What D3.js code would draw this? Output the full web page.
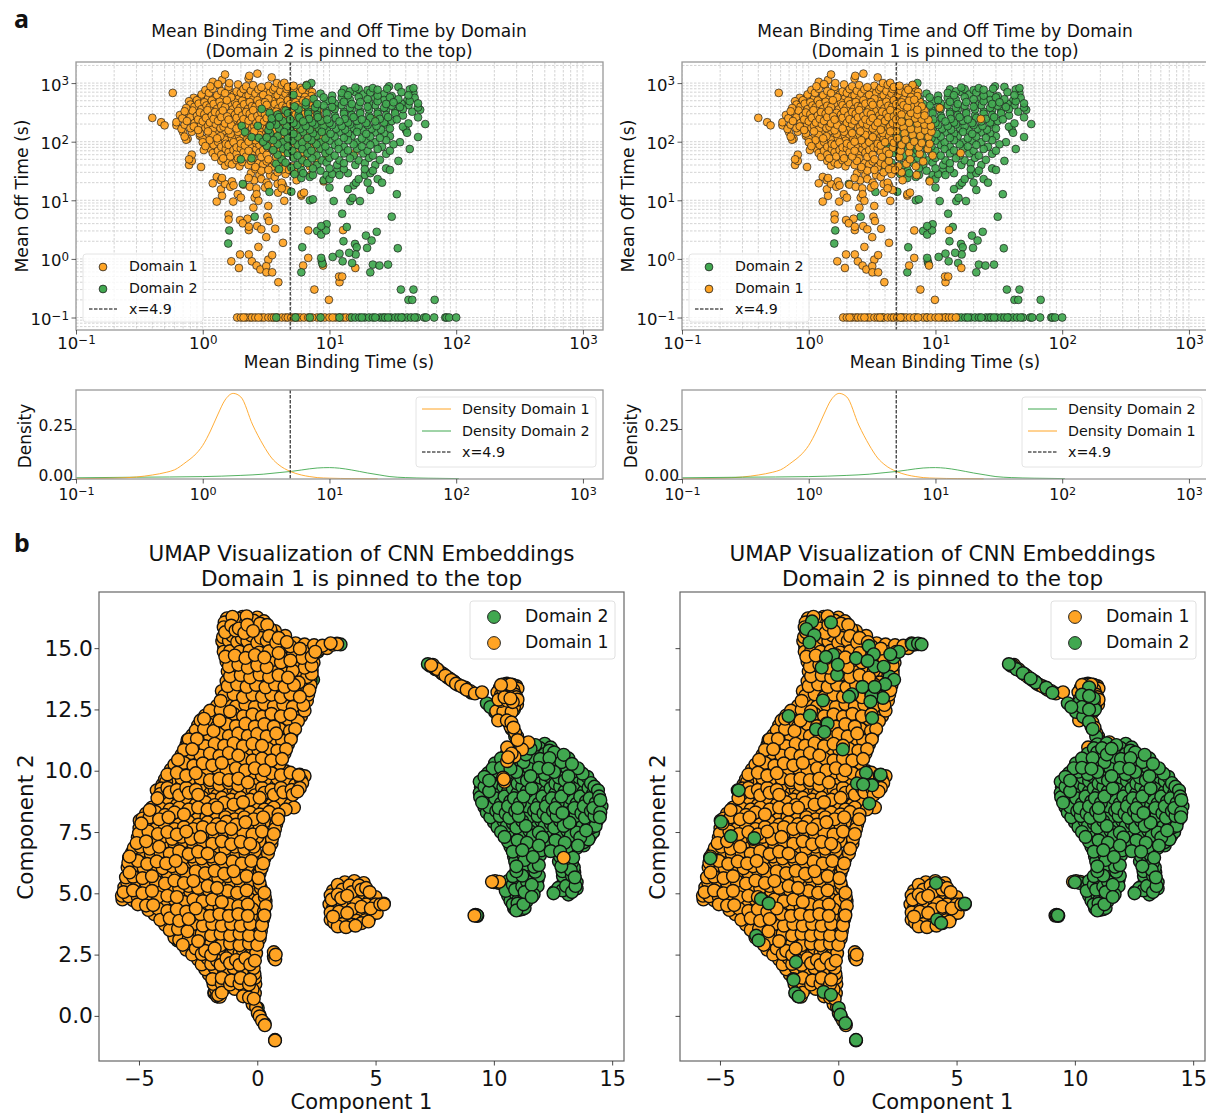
<!DOCTYPE html>
<html>
<head>
<meta charset="utf-8">
<script src="https://d3js.org/d3.v7.min.js"></script>
<style>
html,body{margin:0;padding:0;background:#fff;overflow:hidden;}
text{font-family:"DejaVu Sans",sans-serif;fill:#111;}
</style>
</head>
<body>
<svg id="fig" width="1206" height="1115"></svg>
<script>
// mean binding time (s), mean off time (s)
var scatterDomain1 = [
[0.4,255],[0.47,215],[0.5,190],[0.58,680],[1.2,1050],[1.32,960],[1.42,1130],[1.5,1400],[1.62,1000],[2.3,1200],[2.33,1330],[2.7,1450],[3.5,1250],[3.85,1000],[4.4,1010],
[1.15,880],[1.35,930],[1.6,860],[1.9,950],[2.2,880],[2.5,920],[2.9,850],[3.3,900],[3.7,840],[4.2,930],[4.7,860],[5.2,900],[5.9,830],[6.6,930],
[1.05,760],[1.2,800],[1.4,730],[1.6,780],[1.85,720],[2.1,790],[2.4,740],[2.75,780],[3.15,720],[3.6,770],[4.1,730],[4.6,790],[5.3,740],[6.1,770],[7,720],
[0.98,640],[1.12,680],[1.3,620],[1.5,670],[1.75,630],[2,680],[2.3,620],[2.6,660],[3,630],[3.4,680],[3.9,620],[4.5,660],[5.1,640],[5.8,680],
[0.85,560],[0.97,590],[1.1,540],[1.27,580],[1.45,530],[1.68,570],[1.92,540],[2.2,590],[2.5,530],[2.85,570],[3.3,540],[3.75,590],[4.3,550],[4.9,570],[5.6,530],[6.4,580],
[0.78,490],[0.9,510],[1.03,470],[1.18,505],[1.36,480],[1.55,510],[1.8,465],[2.05,500],[2.35,475],[2.7,510],[3.1,470],[3.55,495],[4.1,480],[4.7,510],[5.4,470],[6.2,500],
[0.8,430],[0.93,445],[1.07,415],[1.22,440],[1.4,410],[1.62,445],[1.85,420],[2.12,435],[2.45,405],[2.8,445],[3.2,425],[3.7,440],[4.25,410],[4.9,435],[5.6,420],
[0.74,375],[0.86,395],[0.98,360],[1.13,385],[1.3,365],[1.5,390],[1.72,355],[1.98,380],[2.28,365],[2.6,395],[3,360],[3.45,385],[3.95,370],[4.55,390],[5.2,360],[6,385],
[0.72,330],[0.83,340],[0.95,315],[1.09,345],[1.25,320],[1.44,340],[1.66,310],[1.9,335],[2.2,320],[2.5,345],[2.9,315],[3.3,335],[3.8,325],[4.4,345],[5,315],
[0.66,285],[0.78,300],[0.9,275],[1.03,295],[1.18,280],[1.36,300],[1.56,270],[1.8,290],[2.05,280],[2.35,300],[2.7,275],[3.1,295],[3.6,280],[4.1,300],[4.7,270],[5.4,290],
[0.69,250],[0.8,260],[0.92,240],[1.06,255],[1.22,245],[1.4,262],[1.6,238],[1.85,255],[2.1,242],[2.45,260],[2.8,240],[3.2,252],[3.7,245],[4.25,262],[4.9,240],
[0.62,215],[0.75,225],[0.86,208],[1,222],[1.14,212],[1.32,226],[1.5,205],[1.75,220],[2,210],[2.3,228],[2.65,208],[3.05,222],[3.5,212],[4,226],[4.6,208],
[0.62,190],[0.72,195],[0.85,182],[0.97,196],[1.1,186],[1.27,198],[1.46,180],[1.68,192],[1.92,184],[2.2,198],[2.55,182],[2.9,194],[3.35,186],[3.85,198],[4.4,182],[5,192],
[0.68,165],[0.8,170],[0.92,158],[1.05,172],[1.2,162],[1.38,170],[1.6,156],[1.85,168],[2.1,160],[2.45,172],[2.8,158],[3.2,168],[3.7,160],[4.25,172],
[0.7,145],[0.82,148],[0.95,138],[1.1,150],[1.26,142],[1.45,150],[1.66,136],[1.9,147],[2.2,140],[2.55,150],[2.9,138],[3.35,147],[3.85,140],[4.4,150],
[0.72,122],[0.76,112],[0.95,126],[1.1,120],[1.2,130],[1.38,124],[1.6,130],[1.85,120],[2.1,128],[2.4,122],[2.8,130],[3.2,120],[3.7,127],
[0.74,108],[1,112],[1.13,106],[1.3,114],[1.5,108],[1.7,114],[1.95,104],[2.25,112],[2.6,106],[3,114],[3.4,105],[3.9,112],[4.5,106],
[1,98],[1.15,94],[1.32,99],[1.52,92],[1.75,98],[2,93],[2.3,100],[2.65,94],[3,98],[3.5,92],[4,98],
[1.05,84],[1.22,88],[1.4,82],[1.6,88],[1.85,80],[2.15,86],[2.45,82],[2.8,88],[3.25,80],[3.7,86],
[1.02,72],[1.15,76],[1.32,70],[1.52,75],[1.75,72],[2,77],[2.3,70],[2.65,75],[3,72],[3.5,77],[4.1,70],
[0.82,60],[1.2,64],[1.4,60],[1.6,66],[1.85,62],[2.1,66],[2.45,60],[2.8,65],[3.2,60],[3.7,66],[4.3,62],
[0.78,50],[1.25,55],[1.45,52],[1.65,56],[1.9,52],[2.2,56],[2.5,52],[2.9,55],[3.3,50],[3.8,55],
[0.82,47],[1.4,47],[1.6,44],[1.85,48],[2.05,45],[2.4,47],[2.75,43],[3.2,46],[3.7,44],[4.3,47],
[0.78,40],[0.97,37],[1.5,39],[1.7,41],[1.95,38],[2.3,40],[2.6,37],[3,41],[3.5,37],[4,40],[4.6,36],[5.1,38],
[2.6,34],[2.9,32],[3.3,33],[3.9,30],[4.3,34],[2.4,29],[2.8,27],[3.4,27],[3.7,25],[4.5,28],[4.8,33],
[1.29,25],[1.39,22],[1.42,24],[1.7,21],[2.3,24],[2.55,22],[2.9,23],[3.2,20],[3.9,19],[4.2,20],[4.3,18],
[1.2,19.5],[1.5,19],[1.65,17],[1.75,18],[2.1,18.5],[2.35,17],[2.65,16],[3.1,16.5],[3.3,18],[4.2,16],[4.6,15],
[1.39,15.4],[1.42,11.9],[1.29,9.5],[1.74,9.5],[1.89,12.7],[2,11.1],[2.57,11.1],[2.66,12.7],[2.75,9.8],[2.51,7.5],[3.29,8],[3.93,13.5],[4.4,9.8],[6,12.7],[6.3,13.5],
[1.6,4.7],[1.97,4.6],[2.26,4.85],[2.07,4.05],[2.31,3.54],[2.31,3.1],[2.69,3.63],[2.9,3.2],[3.24,5.25],[3.33,4.43],[1.6,5.7],
[1.68,0.91],[1.93,0.7],[1.97,1.19],[2.31,1.19],[2.44,0.91],[2.66,0.77],[2.85,0.66],[3.17,0.75],[3.18,0.59],[3.53,0.59],[3.29,0.97],[3.53,1.16],[2.75,1.6],[3.17,2.35],[3.73,3.27],[4.3,1.88],[3.95,0.4],
[6.2,0.77],[6.8,1.04],[6.8,3.06],[7.6,0.3],[9.9,0.2],[8.9,0.77],[11.9,0.5],[12.6,0.5],[12,0.4],[16,0.7],[12.8,3.1],
[10.8,377],[22.8,245],[15.8,64],
[6.9,800],[7.3,700],[6.5,640],[7.2,600],[6.8,520],[7.5,480],[7,430],[7.8,400],[6.4,400],[7.2,350],[8.2,340],[5.6,340],[6.4,310],[7.2,290],[8.2,280],[6.1,270],[6.9,250],[7.8,240],[8.8,235],
[5.4,220],[6.2,210],[7.2,205],[8.2,195],[9.2,185],[5.6,175],[6.4,165],[7.3,160],[8.3,155],[9.3,148],[4.9,150],[5.7,138],[6.6,130],[7.6,125],[8.8,120],[4.3,125],[5,115],[5.8,108],[6.8,100],[7.8,95],[9,92],
[4.7,96],[5.4,88],[6.3,84],[7.4,80],[8.7,75],[4.6,78],[5.3,70],[6.2,65],[7.5,62],[9.5,58],[5.2,55],[6.3,50],[8,46],[5.9,42],[7,38],[5.4,30],[7.1,27],[9,21],[5.5,22],[6,12],
[1.87,0.1],[2,0.1],[2.1,0.1],[2.2,0.1],[2.35,0.1],[2.45,0.1],[2.6,0.1],[2.75,0.1],[2.9,0.1],[3.05,0.1],[3.3,0.1],[3.5,0.1],[3.65,0.1],[3.9,0.1],[4.2,0.1],[4.5,0.1],[4.7,0.1],[5,0.1],[5.3,0.1],[5.6,0.1],[5.9,0.1],[6.3,0.1],[6.8,0.1],[7.3,0.1],[8,0.1],[8.6,0.1],[9.2,0.1],[10,0.1],[10.6,0.1],[11.2,0.1],[12,0.1],[12.8,0.1],[13.5,0.1],[14.5,0.1]
];
var scatterDomain2 = [
[7.2,1000],[6.6,910],[5.2,630],[29.5,880],[28.5,800],[35,860],[43,780],[46,820],
[2.92,363],[3.37,310],[2.03,186],[2.15,147],[2.72,186],[2.43,120],[2.77,116],[2,50],[2.43,52],[2.07,19],
[13,780],[14.5,720],[16,840],[17,790],[20,760],[22,820],[24,770],
[8.5,660],[10.5,610],[12.5,680],[14,620],[16,700],[18.5,640],[21,690],[24,610],[27,650],[31,600],[37,700],[42,620],[46,680],
[7.5,540],[9,570],[10.5,510],[12.5,560],[14.5,520],[17,575],[20,530],[23,560],[27,515],[30,570],[35,530],[41,500],[47,560],
[6.5,470],[8,440],[9.5,490],[11,450],[13,480],[15,440],[17.5,475],[20.5,450],[24,490],[28,440],[32,470],[37,445],[43,490],[50,450],
[5.3,400],[6.5,420],[7.7,385],[9,415],[10.5,390],[12.5,420],[14.5,380],[17,410],[20,395],[23,420],[27,380],[31,410],[36,390],[42,420],[50,385],
[4.5,340],[5.7,355],[6.8,325],[8,350],[9.5,335],[11,360],[13,325],[15,350],[17.5,330],[20.5,355],[24,325],[28,350],[33,335],[38,360],[45,325],[52,350],
[3.9,290],[4.7,305],[5.7,280],[6.8,300],[8,285],[9.5,305],[11,280],[13,300],[15,285],[17.5,305],[20.5,280],[24,300],[28,285],[33,305],[38,280],[50,260],
[3.5,250],[4,262],[4.9,240],[5.8,258],[6.9,245],[8.1,262],[9.6,240],[11.2,255],[13.2,245],[15.5,262],[18,240],[21,255],[25,245],[29,262],[34,240],
[3.5,215],[4.3,225],[5.2,208],[6.2,222],[7.3,212],[8.6,226],[10,208],[12,222],[14,212],[16.5,226],[19.5,208],[23,222],[27,212],[31,225],[42,205],
[3.4,185],[3.8,195],[4.6,182],[5.5,192],[6.5,184],[7.7,196],[9,182],[10.5,192],[12.5,184],[14.5,196],[17,182],[20,192],[23.5,185],[28,196],[38,180],[57,200],
[3.3,158],[4,168],[4.9,156],[5.9,166],[7,160],[8.2,170],[9.6,156],[11.3,166],[13.3,160],[15.6,170],[18.3,156],[21.5,166],[25.5,160],[30,168],[40,160],
[3.4,140],[4.4,146],[5.2,136],[6.2,145],[7.4,138],[8.7,147],[10.2,136],[12,144],[14,138],[16.5,147],[19.5,136],[23,144],[27,138],[41,142],
[3.2,118],[3.9,124],[4.7,114],[5.6,122],[6.7,116],[7.9,126],[9.3,114],[11,122],[13,116],[15,125],[18,114],[21,122],[25,116],[30,124],[50,120],
[3,100],[3.6,106],[4.3,98],[5.1,104],[6.1,98],[7.2,106],[8.5,97],[10,104],[11.8,98],[14,106],[16.5,97],[19.5,104],[23,98],[28,106],[36,98],
[3.2,85],[3.9,90],[4.7,83],[5.6,88],[6.7,82],[7.9,90],[9.3,83],[11,88],[13,82],[15.5,90],[18,83],[21,88],[26,82],[32,90],[43,75],
[3.6,72],[4.3,76],[5.1,70],[6.1,75],[7.2,70],[8.5,76],[10,70],[11.8,75],[14,71],[16.5,76],[20,70],[24,75],[30,70],
[3.9,60],[4.7,64],[5.6,58],[6.7,63],[7.9,58],[9.3,64],[11,58],[13,63],[15.5,58],[18.5,63],[22,58],[28,62],
[4.2,50],[5.2,53],[6.1,48],[7.3,52],[8.7,48],[10,53],[12,48],[14.5,52],[17,48],[20.5,53],[25,49],[35,47],
[3.8,42],[4.5,44],[5.6,40],[6.7,43],[8,40],[9.5,44],[11.5,40],[13,43],[16,40],[19,43],[23,40],
[4,34],[5,36],[6,33],[7.4,35],[8.5,32],[10,35],[11.5,32],[13,34],[19,34],[22,32],[28,35],[30,33],
[5.3,28],[6.2,29],[7.4,27],[9.5,27],[10.5,28],[12,27],[14,29],[19,27],[21,29],
[6,24],[7,25],[9,22],[10,23],[20,20],[24,23],[26,20],[16.2,20],[17,23],[15.5,18],
[3.36,13.9],[5,14],[7.4,10.4],[7,10],[10.8,9.7],[10,16.5],[14,15.5],[14.6,9.7],[15.2,11],[17.4,9.7],[21,15],[34,12.7],[31,5.25],[12.6,5.9],[13.7,3.5],
[1.62,3.06],[1.59,1.83],[2.57,5.25],[8.6,3.63],[8,3],[8.6,2.6],[9.5,3.9],[9.4,3.06],[12.9,2],[19.4,2.5],[23.6,2.9],[21.5,2.06],[15.9,1.8],[16.4,1.58],[16.1,1.19],[14.3,1.27],[12,1.23],[10.6,1.08],[19.8,1.54],[34.6,1.52],[8.6,1.04],[8.7,0.91],[8.8,0.83],[12.7,0.91],[15.1,0.85],[22,0.8],[24.8,0.77],[29,0.8],[21,0.59],[6.1,1.58],[6,0.59],[36.6,0.3],[46,0.3],[42,0.2],[45,0.2],[67.6,0.2],
[3.8,0.1],[5.4,0.1],[7,0.1],[8.5,0.1],[12,0.1],[15,0.1],[16,0.1],[17.2,0.1],[18,0.1],[19,0.1],[20.5,0.1],[22,0.1],[23,0.1],[25,0.1],[26.5,0.1],[27.5,0.1],[29,0.1],[30.5,0.1],[33,0.1],[35,0.1],[37,0.1],[38,0.1],[41,0.1],[44,0.1],[47,0.1],[49,0.1],[56,0.1],[58,0.1],[67,0.1],[82,0.1],[84,0.1],[88,0.1],[100,0.1]
];

var densityXDomain1 = [0.1,0.2,0.3,0.4,0.52,0.6,0.74,0.85,1,1.15,1.31,1.5,1.74,2,2.48,3,3.5,4,4.9,6,7,8,10,15,24];
var densityDomain1 =  [0.002,0.004,0.01,0.02,0.034,0.046,0.085,0.115,0.168,0.24,0.32,0.395,0.428,0.41,0.27,0.17,0.105,0.07,0.038,0.02,0.012,0.007,0.004,0.002,0.001];
var densityXDomain2 = [0.1,0.3,1,2,3,4,5,6,8,10,12,15,20,25,30,40,60,105];
var densityDomain2 =  [0.006,0.009,0.012,0.018,0.024,0.032,0.038,0.045,0.055,0.057,0.054,0.045,0.03,0.02,0.012,0.007,0.004,0.002];

// UMAP component 1, component 2
var umapDomain1 = [
[-1.28,16.22],[-0.95,16.12],[-0.62,16.28],[-0.3,16.15],[0,16.25],[0.28,16.1],[-1.05,16.28],[-0.45,16.3],
[-1.42,15.85],[-1.1,15.92],[-0.78,15.8],[-0.42,15.95],[-0.1,15.82],[0.22,15.9],[0.55,15.78],[-1.38,16.05],
[-1.45,15.45],[-1.05,15.5],[-0.65,15.4],[-0.25,15.52],[0.15,15.42],[0.5,15.5],[0.9,15.42],[1.18,15.5],[0.75,15.7],
[-1.4,15.05],[-1,15.12],[-0.6,15],[-0.2,15.1],[0.2,15.02],[0.6,15.12],[1,15],[1.4,15.08],[1.8,14.98],[2.2,15.05],[2.6,14.95],[2.95,15],[3.2,15.14],[3.38,15.16],[3.1,15.2],
[-1.35,14.65],[-0.95,14.7],[-0.5,14.6],[-0.1,14.72],[0.3,14.62],[0.7,14.7],[1.1,14.6],[1.5,14.7],[1.9,14.6],[2.3,14.65],[2.45,14.85],
[-1.2,14.25],[-0.8,14.32],[-0.4,14.2],[0,14.3],[0.4,14.22],[0.8,14.32],[1.2,14.22],[1.6,14.3],[2,14.2],[2.3,14.28],
[-1.15,13.85],[-0.7,13.9],[-0.3,13.8],[0.1,13.92],[0.5,13.82],[0.9,13.9],[1.3,13.8],[1.7,13.9],[2.1,13.82],[2.3,13.95],
[-1.25,13.45],[-0.85,13.52],[-0.45,13.42],[-0.05,13.5],[0.35,13.4],[0.75,13.52],[1.15,13.42],[1.55,13.5],[1.95,13.4],[2.25,13.5],
[-1.4,13.05],[-1,13.12],[-0.6,13],[-0.2,13.1],[0.2,13.02],[0.6,13.1],[1,13],[1.4,13.12],[1.8,13.02],[2.15,13.1],
[-1.7,12.65],[-1.3,12.72],[-0.9,12.62],[-0.5,12.7],[-0.1,12.6],[0.3,12.72],[0.7,12.62],[1.1,12.7],[1.5,12.6],[1.95,12.68],[2.1,12.85],
[-2.2,12.25],[-1.8,12.3],[-1.4,12.2],[-1,12.32],[-0.6,12.22],[-0.2,12.3],[0.2,12.2],[0.6,12.32],[1,12.22],[1.4,12.3],[1.85,12.22],[-2.05,12.05],
[-2.5,11.85],[-2.1,11.92],[-1.7,11.8],[-1.3,11.9],[-0.9,11.82],[-0.5,11.92],[-0.1,11.8],[0.3,11.9],[0.7,11.8],[1.1,11.92],[1.55,11.82],
[-2.75,11.45],[-2.4,11.52],[-2,11.4],[-1.6,11.5],[-1.2,11.42],[-0.8,11.52],[-0.4,11.42],[0,11.5],[0.4,11.4],[0.8,11.52],[1.2,11.42],[1.45,11.5],
[-3,11.05],[-2.6,11.12],[-2.2,11],[-1.8,11.1],[-1.4,11.02],[-1,11.12],[-0.6,11],[-0.2,11.1],[0.2,11.02],[0.6,11.12],[1,11],[1.3,11.08],[-2.95,11.25],
[-3.2,10.65],[-2.8,10.72],[-2.4,10.62],[-2,10.7],[-1.6,10.6],[-1.2,10.72],[-0.8,10.62],[-0.4,10.7],[0,10.6],[0.4,10.72],[0.8,10.62],[1.15,10.7],
[-3.5,10.25],[-3.1,10.32],[-2.7,10.2],[-2.3,10.3],[-1.9,10.22],[-1.5,10.32],[-1.1,10.2],[-0.7,10.3],[-0.3,10.22],[0.1,10.32],[0.5,10.22],[0.95,10.3],[-3.3,10.45],
[-3.8,9.85],[-3.4,9.92],[-3,9.8],[-2.6,9.9],[-2.2,9.82],[-1.8,9.92],[-1.4,9.8],[-1,9.9],[-0.6,9.82],[-0.2,9.92],[0.2,9.8],[0.6,9.9],[1,9.82],[1.4,9.92],[1.75,9.82],[2,9.78],[-3.75,9.72],
[-4,9.45],[-3.6,9.52],[-3.2,9.42],[-2.8,9.5],[-2.4,9.4],[-2,9.52],[-1.6,9.42],[-1.2,9.5],[-0.8,9.4],[-0.4,9.52],[0,9.42],[0.4,9.5],[0.8,9.4],[1.2,9.52],[1.6,9.42],[1.9,9.5],
[-4.1,9.05],[-3.7,9.12],[-3.3,9],[-2.9,9.1],[-2.5,9.02],[-2.1,9.12],[-1.7,9],[-1.3,9.1],[-0.9,9.02],[-0.5,9.12],[-0.1,9],[0.3,9.1],[0.7,9.02],[1.1,9.12],[1.5,9.02],[1.7,9.15],[-4.25,9.2],
[-4.2,8.65],[-3.8,8.72],[-3.4,8.6],[-3,8.7],[-2.6,8.62],[-2.2,8.72],[-1.8,8.6],[-1.4,8.7],[-1,8.62],[-0.6,8.72],[-0.2,8.6],[0.2,8.7],[0.6,8.62],[1,8.72],[1.4,8.62],[1.55,8.5],
[-4.7,8.25],[-4.3,8.32],[-3.9,8.2],[-3.5,8.3],[-3.1,8.22],[-2.7,8.32],[-2.3,8.2],[-1.9,8.3],[-1.5,8.22],[-1.1,8.32],[-0.7,8.2],[-0.3,8.3],[0.1,8.22],[0.5,8.32],[0.9,8.22],[-4.55,8.4],
[-4.9,7.85],[-4.5,7.92],[-4.1,7.8],[-3.7,7.9],[-3.3,7.82],[-2.9,7.92],[-2.5,7.8],[-2.1,7.9],[-1.7,7.82],[-1.3,7.92],[-0.9,7.8],[-0.5,7.9],[-0.1,7.82],[0.3,7.92],[0.8,7.82],[-4.75,8.05],[-4.97,7.97],
[-5,7.45],[-4.6,7.52],[-4.2,7.42],[-3.8,7.5],[-3.4,7.4],[-3,7.52],[-2.6,7.42],[-2.2,7.5],[-1.8,7.4],[-1.4,7.52],[-1,7.42],[-0.6,7.5],[-0.2,7.4],[0.2,7.52],[0.7,7.42],
[-5.1,7.05],[-4.7,7.12],[-4.3,7],[-3.9,7.1],[-3.5,7.02],[-3.1,7.12],[-2.7,7],[-2.3,7.1],[-1.9,7.02],[-1.5,7.12],[-1.1,7],[-0.7,7.1],[-0.3,7.02],[0.1,7.12],[0.6,7.02],
[-5.3,6.65],[-4.9,6.72],[-4.5,6.6],[-4.1,6.7],[-3.7,6.62],[-3.3,6.72],[-2.9,6.6],[-2.5,6.7],[-2.1,6.62],[-1.7,6.72],[-1.3,6.6],[-0.9,6.7],[-0.5,6.62],[-0.1,6.72],[0.45,6.62],
[-5.45,6.25],[-5.05,6.32],[-4.65,6.2],[-4.25,6.3],[-3.85,6.22],[-3.45,6.32],[-3.05,6.2],[-2.65,6.3],[-2.25,6.22],[-1.85,6.32],[-1.45,6.2],[-1.05,6.3],[-0.65,6.22],[-0.25,6.32],[0.25,6.22],[-5.4,6.5],
[-5.4,5.85],[-5,5.92],[-4.6,5.8],[-4.2,5.9],[-3.8,5.82],[-3.4,5.92],[-3,5.8],[-2.6,5.9],[-2.2,5.82],[-1.8,5.92],[-1.4,5.8],[-1,5.9],[-0.6,5.82],[-0.2,5.92],[0.1,5.82],
[-5.5,5.45],[-5.1,5.52],[-4.7,5.42],[-4.3,5.5],[-3.9,5.4],[-3.5,5.52],[-3.1,5.42],[-2.7,5.5],[-2.3,5.4],[-1.9,5.52],[-1.5,5.42],[-1.1,5.5],[-0.7,5.4],[-0.3,5.52],[0.1,5.42],
[-5.65,5.05],[-5.25,5.12],[-4.85,5],[-4.45,5.1],[-4.05,5.02],[-3.65,5.12],[-3.25,5],[-2.85,5.1],[-2.45,5.02],[-2.05,5.12],[-1.65,5],[-1.25,5.1],[-0.85,5.02],[-0.45,5.12],[0.3,5.02],[0.02,5.15],
[-5.7,4.75],[-5.25,4.72],[-4.75,4.66],[-4.3,4.75],[-3.9,4.68],[-3.5,4.75],[-3.1,4.65],[-2.7,4.75],[-2.3,4.68],[-1.9,4.75],[-1.5,4.65],[-1.1,4.75],[-0.7,4.68],[-0.3,4.75],[0.35,4.68],[0.05,4.72],
[-4.6,4.32],[-4.2,4.38],[-3.8,4.28],[-3.4,4.35],[-3,4.25],[-2.6,4.38],[-2.2,4.28],[-1.8,4.35],[-1.4,4.25],[-1,4.38],[-0.6,4.28],[-0.2,4.35],[0.28,4.25],
[-4.1,3.92],[-3.7,3.98],[-3.3,3.88],[-2.9,3.95],[-2.5,3.85],[-2.1,3.98],[-1.7,3.88],[-1.3,3.95],[-0.9,3.85],[-0.5,3.98],[-0.1,3.88],[0.25,3.95],
[-3.7,3.5],[-3.35,3.55],[-2.95,3.45],[-2.55,3.55],[-2.15,3.48],[-1.75,3.55],[-1.35,3.45],[-0.95,3.55],[-0.55,3.48],[-0.15,3.55],[0.15,3.45],
[-3.3,3.1],[-2.9,3.15],[-2.5,3.05],[-2.1,3.15],[-1.7,3.08],[-1.3,3.15],[-0.9,3.05],[-0.5,3.15],[-0.1,3.08],[0.1,3.15],[-3.5,3.2],
[-3,2.7],[-2.6,2.75],[-2.2,2.65],[-1.8,2.75],[-1.4,2.68],[-1,2.75],[-0.6,2.65],[-0.2,2.75],
[-2.5,2.3],[-2.1,2.35],[-1.7,2.25],[-1.3,2.35],[-0.9,2.28],[-0.5,2.35],[-0.1,2.25],
[-2.2,1.9],[-1.8,1.95],[-1.4,1.85],[-1,1.95],[-0.6,1.88],[-0.15,1.95],
[-1.9,1.5],[-1.5,1.55],[-1.1,1.45],[-0.7,1.55],[-0.3,1.48],[-0.1,1.55],
[-1.75,1.1],[-1.35,1.15],[-0.95,1.1],[-0.55,1.15],[-0.2,1.08],[-1.65,0.85],[-1.5,0.95],[-0.6,0.8],[-0.35,0.75],[-0.15,0.7],[-1.8,0.96],[-1.7,0.8],
[-0.2,0.48],[-0.05,0.35],[0.02,0.12],[0.1,-0.02],[0.2,-0.2],[0.32,-0.38],[0.75,-1],[0.7,2.6],[0.78,2.5],[0.72,2.35],
[3.7,5.45],[4.1,5.5],[4.5,5.42],[3.2,5.1],[3.6,5.15],[4,5.05],[4.4,5.15],[4.75,5.05],[3.15,4.75],[3.55,4.8],[3.95,4.7],[4.35,4.8],[4.75,4.72],[5,4.85],
[3.2,4.4],[3.6,4.45],[4,4.35],[4.4,4.45],[4.8,4.38],[5.2,4.55],[5.35,4.55],[3.2,4.05],[3.55,4.1],[3.95,4],[4.35,4.1],[4.75,4.02],[5.05,4.2],[3.25,3.8],[3.6,3.75],[4,3.72],[4.4,3.78],[4.7,3.85],
[7.35,14.3],[7.5,14.2],[7.65,14.1],[7.85,13.95],[8.05,13.8],[8.3,13.65],[8.5,13.5],[8.75,13.38],[9,13.25],[9.2,13.15],[9.5,13.2],
[10.3,13.5],[10.55,13.55],[10.8,13.5],[11,13.35],[10.15,13.2],[10.4,13.25],[10.65,13.3],[10.9,13.1],[11,12.9],[10.2,12.9],[10.45,13],[10.7,12.95],[10.35,12.7],[10.6,12.65],[10.85,12.6],[10.49,13.04],[10.1,12.43],[10.4,12.4],[10.75,12.4],[10.18,12.05],[10.55,12.05],[10.74,11.97],[10.83,11.76],[10.98,11.41],[11.46,11.16],[11.19,10.87],[10.56,10.95],[10.87,10.58],[10.56,10.39],[10.39,9.72],[10.45,9.55],[12.95,6.45],[10.23,5.47],[9.92,5.47],[10.05,5.5],[9.18,4.09]
];
// second pass over the orange mass, tighter and denser near the rims
var umapDomain1Dense = [
[-1.2,16.08],[-0.78,16.2],[-0.48,16.02],[-0.15,16.12],[0.12,16],[0.42,15.95],[-1.36,15.65],[-0.92,15.72],[-0.55,15.62],[-0.18,15.7],[0.2,15.65],[0.6,15.62],[1.02,15.3],[-1.48,15.28],[-1.2,15.3],[-0.85,15.25],[-0.42,15.28],[0,15.22],[0.4,15.3],[0.8,15.22],[1.25,15.25],[1.62,15.2],[2,15.15],[2.4,15.12],[2.75,15.1],
[-1.42,14.85],[-1.15,14.88],[-0.75,14.85],[-0.32,14.9],[0.08,14.82],[0.5,14.88],[0.9,14.8],[1.3,14.88],[1.7,14.82],[2.1,14.85],[-1.3,14.45],[-1,14.48],[-0.6,14.42],[-0.2,14.5],[0.2,14.42],[0.6,14.5],[1,14.42],[1.4,14.5],[1.8,14.42],[2.2,14.48],[2.38,14.4],
[-1.25,14.05],[-0.95,14.08],[-0.55,14],[-0.12,14.08],[0.3,14],[0.7,14.1],[1.1,14],[1.5,14.08],[1.9,14],[2.3,14.1],[-1.3,13.65],[-1,13.68],[-0.6,13.62],[-0.22,13.7],[0.2,13.62],[0.55,13.7],[0.95,13.62],[1.35,13.7],[1.75,13.6],[2.25,13.68],[-1.5,13.25],[-1.2,13.28],[-0.8,13.22],[-0.4,13.3],[0,13.22],[0.4,13.3],[0.8,13.22],[1.2,13.28],[1.6,13.22],[2.2,13.28],
[-1.55,12.85],[-1.2,12.88],[-0.75,12.82],[-0.35,12.9],[0.05,12.82],[0.45,12.9],[0.85,12.82],[1.25,12.9],[1.65,12.82],[-2,12.45],[-1.55,12.48],[-1.15,12.42],[-0.75,12.5],[-0.35,12.42],[0.05,12.5],[0.45,12.42],[0.85,12.5],[1.25,12.42],[1.7,12.48],[2,12.45],
[-2.4,12.05],[-2.25,12.12],[-1.6,12.05],[-1.15,12.1],[-0.75,12.02],[-0.35,12.1],[0.05,12.02],[0.45,12.1],[0.85,12.02],[1.3,12.1],[1.72,12.02],[-2.6,11.65],[-2.25,11.7],[-1.85,11.62],[-1.45,11.7],[-1.05,11.62],[-0.65,11.7],[-0.25,11.62],[0.15,11.7],[0.55,11.62],[0.95,11.7],[1.38,11.62],[1.6,11.7],
[-2.9,11.28],[-2.55,11.3],[-2.15,11.22],[-1.75,11.3],[-1.35,11.22],[-0.95,11.3],[-0.55,11.22],[-0.15,11.3],[0.25,11.22],[0.65,11.3],[1.05,11.22],[1.42,11.28],[-3.1,10.85],[-2.75,10.88],[-2.35,10.82],[-1.95,10.9],[-1.55,10.82],[-1.15,10.9],[-0.75,10.82],[-0.35,10.9],[0.05,10.82],[0.45,10.9],[0.85,10.82],[1.22,10.88],
[-3.35,10.45],[-3,10.5],[-2.6,10.42],[-2.2,10.5],[-1.8,10.42],[-1.4,10.5],[-1,10.42],[-0.6,10.5],[-0.2,10.42],[0.2,10.5],[0.6,10.42],[1.05,10.48],[-3.65,10.05],[-3.3,10.1],[-2.9,10.02],[-2.5,10.1],[-2.1,10.02],[-1.7,10.1],[-1.3,10.02],[-0.9,10.1],[-0.5,10.02],[-0.1,10.1],[0.3,10.02],[0.82,10.05],[1.2,9.98],
[-3.9,9.65],[-3.85,9.55],[-3.2,9.68],[-2.8,9.62],[-2.4,9.68],[-2,9.62],[-1.6,9.68],[-1.2,9.62],[-0.8,9.68],[-0.4,9.62],[0,9.68],[0.4,9.62],[0.85,9.68],[1.3,9.62],[1.85,9.62],[-4.05,9.28],[-3.8,9.3],[-3.4,9.22],[-3,9.3],[-2.6,9.22],[-2.2,9.3],[-1.8,9.22],[-1.4,9.3],[-1,9.22],[-0.6,9.3],[-0.2,9.22],[0.2,9.3],[0.6,9.22],[1,9.3],[1.45,9.22],[1.8,9.3],
[-4.22,8.88],[-3.9,8.92],[-3.5,8.82],[-3.1,8.9],[-2.7,8.82],[-2.3,8.9],[-1.9,8.82],[-1.5,8.9],[-1.1,8.82],[-0.7,8.9],[-0.3,8.82],[0.1,8.9],[0.5,8.82],[0.9,8.9],[1.3,8.82],[-4.45,8.5],[-4.1,8.48],[-3.7,8.42],[-3.3,8.5],[-2.9,8.42],[-2.5,8.5],[-2.1,8.42],[-1.7,8.5],[-1.3,8.42],[-0.9,8.5],[-0.5,8.42],[-0.1,8.5],[0.3,8.42],[0.7,8.5],[1.2,8.42],
[-4.85,8.05],[-4.55,8.1],[-4.15,8.02],[-3.75,8.1],[-3.35,8.02],[-2.95,8.1],[-2.55,8.02],[-2.15,8.1],[-1.75,8.02],[-1.35,8.1],[-0.95,8.02],[-0.55,8.1],[-0.15,8.02],[0.25,8.1],[0.88,8.02],[-4.98,7.65],[-4.7,7.7],[-4.3,7.62],[-3.9,7.7],[-3.5,7.62],[-3.1,7.7],[-2.7,7.62],[-2.3,7.7],[-1.9,7.62],[-1.5,7.7],[-1.1,7.62],[-0.7,7.7],[-0.3,7.62],[0.1,7.7],[0.75,7.62],
[-5.05,7.28],[-4.8,7.3],[-4.4,7.22],[-4,7.3],[-3.6,7.22],[-3.2,7.3],[-2.8,7.22],[-2.4,7.3],[-2,7.22],[-1.6,7.3],[-1.2,7.22],[-0.8,7.3],[-0.4,7.22],[0,7.3],[0.62,7.22],[-5.22,6.85],[-4.95,6.9],[-4.55,6.82],[-4.15,6.9],[-3.75,6.82],[-3.35,6.9],[-2.95,6.82],[-2.55,6.9],[-2.15,6.82],[-1.75,6.9],[-1.35,6.82],[-0.95,6.9],[-0.55,6.82],[-0.15,6.9],[0.5,6.82],
[-5.42,6.45],[-5.15,6.48],[-4.75,6.42],[-4.35,6.5],[-3.95,6.42],[-3.55,6.5],[-3.15,6.42],[-2.75,6.5],[-2.35,6.42],[-1.95,6.5],[-1.55,6.42],[-1.15,6.5],[-0.75,6.42],[-0.35,6.5],[0.3,6.42],[-5.48,6.05],[-5.2,6.1],[-4.8,6.02],[-4.4,6.1],[-4,6.02],[-3.6,6.1],[-3.2,6.02],[-2.8,6.1],[-2.4,6.02],[-2,6.1],[-1.6,6.02],[-1.2,6.1],[-0.8,6.02],[-0.4,6.1],[0.18,6.02],
[-5.55,5.65],[-5.25,5.68],[-4.85,5.62],[-4.45,5.7],[-4.05,5.62],[-3.65,5.7],[-3.25,5.62],[-2.85,5.7],[-2.45,5.62],[-2.05,5.7],[-1.65,5.62],[-1.25,5.7],[-0.85,5.62],[-0.45,5.7],[0.05,5.62],[-5.62,5.25],[-5.3,5.3],[-4.9,5.22],[-4.5,5.3],[-4.1,5.22],[-3.7,5.3],[-3.3,5.22],[-2.9,5.3],[-2.5,5.22],[-2.1,5.3],[-1.7,5.22],[-1.3,5.3],[-0.9,5.22],[-0.5,5.3],[0.15,5.22],
[-5.72,4.9],[-5.45,4.88],[-5.05,4.85],[-4.6,4.9],[-4.2,4.85],[-3.8,4.9],[-3.4,4.85],[-3,4.9],[-2.6,4.85],[-2.2,4.9],[-1.8,4.85],[-1.4,4.9],[-1,4.85],[-0.6,4.9],[0.32,4.85],[-5.05,4.55],[-4.7,4.5],[-4.4,4.52],[-4,4.48],[-3.6,4.55],[-3.2,4.48],[-2.8,4.55],[-2.4,4.48],[-2,4.55],[-1.6,4.48],[-1.2,4.55],[-0.8,4.48],[-0.4,4.55],[0.36,4.48],
[-4.35,4.15],[-4,4.12],[-3.6,4.08],[-3.2,4.15],[-2.8,4.08],[-2.4,4.15],[-2,4.08],[-1.6,4.15],[-1.2,4.08],[-0.8,4.15],[-0.4,4.08],[0.3,4.1],[-3.9,3.72],[-3.5,3.75],[-3.1,3.68],[-2.7,3.75],[-2.3,3.68],[-1.9,3.75],[-1.5,3.68],[-1.1,3.75],[-0.7,3.68],[-0.3,3.75],[0.2,3.7],
[-3.52,3.32],[-3.15,3.32],[-2.75,3.28],[-2.35,3.35],[-1.95,3.28],[-1.55,3.35],[-1.15,3.28],[-0.75,3.35],[-0.35,3.28],[0.12,3.3],[-3.15,2.9],[-2.75,2.95],[-2.35,2.88],[-1.95,2.95],[-1.55,2.88],[-1.15,2.95],[-0.75,2.88],[-0.35,2.95],[0,2.9],[-2.75,2.5],[-2.35,2.52],[-1.95,2.48],[-1.55,2.55],[-1.15,2.48],[-0.75,2.55],[-0.3,2.48],[-0.05,2.55],
[-2.35,2.1],[-1.95,2.12],[-1.55,2.08],[-1.15,2.15],[-0.75,2.08],[-0.3,2.1],[-2.05,1.7],[-1.7,1.72],[-1.3,1.68],[-0.9,1.72],[-0.5,1.68],[-0.12,1.72],[-1.85,1.3],[-1.5,1.32],[-1.15,1.28],[-0.75,1.32],[-0.35,1.28],[-0.08,1.3],[-1.65,1.05],[-0.4,0.95],[-0.1,0.92],[-1.58,0.78],
[3.4,5.35],[3.9,5.32],[4.3,5.32],[4.6,5.22],[3.1,4.92],[3.4,4.95],[3.8,4.9],[4.15,4.95],[4.55,4.9],[3.05,4.55],[3.4,4.6],[3.8,4.55],[4.2,4.6],[4.6,4.55],[5,4.55],[3.1,4.22],[3.45,4.25],[3.8,4.2],[4.2,4.25],[4.6,4.2],[4.95,4.3],[3.1,3.92],[3.4,3.9],[3.8,3.85],[4.2,3.88],[4.55,3.9],[3.4,3.65],[3.75,3.62],[4.15,3.68],[0.7,2.42],[0.76,2.3],
[7.42,14.32],[7.6,14.15],[7.95,13.88],[8.2,13.7],[8.4,13.55],[8.62,13.45],[8.85,13.3],[10.42,13.52],[10.7,13.52],[10.95,13.45],[10.25,13.38],[10.55,13.4],[10.82,13.3],[10.3,13.1],[10.6,13.12],[10.8,13.08],[10.95,13],[10.3,12.85],[10.58,12.85],[10.8,12.8],[10.98,12.7],[10.45,12.55],[10.7,12.52],[10.25,12.25],[10.6,12.25],[10.7,11.8],[10.9,11.55],[11,11.25],[10.75,10.7],[10.6,10.55],[10.42,9.65]
];
var umapDomain2 = [
[-1.11,16.09],[-0.31,16.05],[-1.35,15.78],[-1.01,15.53],[-1.22,15.23],[1.29,15.09],[1.5,14.75],[2.56,14.85],[2.2,14.75],[2.34,14.62],[3.12,15.16],[3.37,15.19],[3.52,15.15],[-0.52,14.64],[-0.22,14.73],[0.75,14.59],[1.24,14.48],[-0.02,14.32],[-0.7,14.21],[-0.05,13.91],[1.53,14.25],[1.92,14.24],[2.17,13.84],[2.36,13.71],[1.98,13.53],[1.02,13.42],[1.54,13.42],[0.58,13.12],[0.45,13.02],[1.4,13.05],[1.36,12.82],[1.89,12.97],[-0.65,12.87],[-1.2,12.25],[-2.1,12.23],[1.43,12.15],[-0.45,11.92],[-0.94,11.69],[-0.59,11.58],[0.19,10.87],[1.17,9.92],[1.79,9.84],[0.79,9.48],[1.05,9.44],[1.43,9.41],[1.31,8.66],[-4.21,9.2],[-4.96,7.92],[-4.54,7.33],[-3.55,7.25],[-5.41,6.43],[-3.27,4.77],[-2.94,4.59],[-3.47,3.27],[-3.37,3.08],[-1.79,2.2],[-1.89,1.47],[-1.82,0.93],[-1.67,0.79],[-0.62,0.98],[-0.31,0.86],[0.02,0.32],[0.09,0.05],[0.3,-0.3],[0.75,-0.98],
[4.13,5.42],[5.35,4.58],[4.18,3.93],[4.35,3.79],
[7.21,14.35],[7.3,14.28],[7.53,14.14],[7.8,13.98],[8.13,13.76],[8.35,13.6],[8.79,13.39],[9.05,13.18],[9.7,12.75],[9.85,12.6],[10.05,12.4],[10.6,13.4],[10.3,13.1],[10.6,13.05],[10.2,12.8],[10.5,12.8],[10.8,12.95],[10.3,12.6],[10.6,12.5],[10.85,12.5],[10.35,12.2],[10.6,12],[10.75,11.7],[10.9,11.4],
[10.95,11.08],[11.35,11.12],[11.75,11.05],[12.15,11.1],[12.4,10.95],
[10.55,10.7],[10.95,10.75],[11.35,10.66],[11.75,10.75],[12.15,10.68],[12.55,10.75],[12.95,10.65],
[10.05,10.3],[10.45,10.36],[10.85,10.26],[11.25,10.35],[11.65,10.28],[12.05,10.36],[12.45,10.26],[12.85,10.35],[13.3,10.28],
[9.75,9.9],[10.15,9.96],[10.55,9.86],[10.95,9.95],[11.35,9.88],[11.75,9.96],[12.15,9.86],[12.55,9.95],[12.95,9.88],[13.35,9.96],[13.75,9.88],
[9.4,9.55],[9.8,9.6],[10.2,9.5],[10.6,9.58],[11,9.48],[11.4,9.6],[11.8,9.5],[12.2,9.58],[12.6,9.48],[13,9.6],[13.4,9.5],[13.8,9.58],[14.1,9.5],
[9.4,9.1],[9.8,9.16],[10.2,9.05],[10.6,9.15],[11,9.08],[11.4,9.16],[11.8,9.06],[12.2,9.15],[12.6,9.08],[13,9.16],[13.4,9.06],[13.8,9.15],[14.2,9.08],[14.4,9.2],
[9.5,8.7],[9.9,8.76],[10.3,8.66],[10.7,8.75],[11.1,8.68],[11.5,8.76],[11.9,8.66],[12.3,8.75],[12.7,8.68],[13.1,8.76],[13.5,8.66],[13.9,8.75],[14.3,8.68],[14.5,8.8],
[9.7,8.3],[10.1,8.36],[10.5,8.26],[10.9,8.35],[11.3,8.28],[11.7,8.36],[12.1,8.26],[12.5,8.35],[12.9,8.28],[13.3,8.36],[13.7,8.26],[14.1,8.35],[14.5,8.3],
[10,7.9],[10.4,7.96],[10.8,7.86],[11.2,7.95],[11.6,7.88],[12,7.96],[12.4,7.86],[12.8,7.95],[13.2,7.88],[13.6,7.96],[14,7.86],[14.35,7.95],
[10.3,7.5],[10.7,7.56],[11.1,7.46],[11.5,7.55],[11.9,7.48],[12.3,7.56],[12.7,7.46],[13.1,7.55],[13.5,7.48],[13.9,7.56],[14.2,7.5],
[10.6,7.1],[11,7.16],[11.4,7.06],[11.8,7.15],[12.2,7.08],[12.6,7.16],[13,7.06],[13.4,7.15],[13.8,7.08],[14,7.2],
[10.8,6.7],[11.2,6.76],[11.6,6.66],[12,6.75],[12.4,6.72],[12.8,6.7],[13.25,6.75],[13.5,6.85],
[10.9,6.3],[11.3,6.36],[11.7,6.28],[12.75,6.3],[13.1,6.36],[13.3,6.25],
[10.95,5.9],[11.35,5.95],[11.75,5.88],[12.9,5.9],[13.25,5.95],[13.4,5.85],
[10.6,5.5],[11,5.55],[11.4,5.48],[11.85,5.55],[12.95,5.5],[13.3,5.55],[13.5,5.45],[10,5.45],[10.2,5.42],
[10.5,5.1],[10.9,5.15],[11.3,5.05],[11.7,5.15],[12.55,5.05],[12.9,5.12],[13.3,5.05],[13.5,5.2],
[10.7,4.7],[11.05,4.75],[11.4,4.7],[11.6,4.85],[10.85,4.4],[11.1,4.45],[11.3,4.4],[10.95,4.3],
[9.3,4.08],[9.22,4.12]
];
// second pass over the green blob
var umapDomain2Dense = [
[10.8,10.92],[11.15,10.92],[11.55,10.9],[11.95,10.92],[12.35,10.82],[10.3,10.5],[10.75,10.52],[11.15,10.48],[11.55,10.52],[11.95,10.48],[12.35,10.52],[12.75,10.48],[13.15,10.5],[9.95,10.1],[10.3,10.12],[10.7,10.08],[11.1,10.12],[11.5,10.08],[11.9,10.12],[12.3,10.08],[12.7,10.12],[13.1,10.08],[13.55,10.1],
[9.6,9.75],[9.95,9.78],[10.35,9.72],[10.75,9.78],[11.15,9.72],[11.55,9.78],[11.95,9.72],[12.35,9.78],[12.75,9.72],[13.15,9.78],[13.6,9.72],[13.95,9.75],[9.45,9.32],[9.6,9.35],[10,9.3],[10.4,9.35],[10.8,9.28],[11.2,9.35],[11.6,9.28],[12,9.35],[12.4,9.28],[12.8,9.35],[13.2,9.28],[13.6,9.35],[14,9.3],[14.25,9.35],
[9.42,8.92],[9.65,8.95],[10.05,8.88],[10.45,8.95],[10.85,8.88],[11.25,8.95],[11.65,8.88],[12.05,8.95],[12.45,8.88],[12.85,8.95],[13.25,8.88],[13.65,8.95],[14.05,8.88],[14.45,8.95],[9.6,8.52],[9.8,8.52],[10.2,8.48],[10.6,8.55],[11,8.48],[11.4,8.55],[11.8,8.48],[12.2,8.55],[12.6,8.48],[13,8.55],[13.4,8.48],[13.8,8.55],[14.2,8.48],[14.55,8.55],
[9.85,8.1],[10.25,8.15],[10.65,8.08],[11.05,8.15],[11.45,8.08],[11.85,8.15],[12.25,8.08],[12.65,8.15],[13.05,8.08],[13.45,8.15],[13.85,8.08],[14.25,8.15],[14.48,8.1],[10.15,7.7],[10.55,7.75],[10.95,7.68],[11.35,7.75],[11.75,7.68],[12.15,7.75],[12.55,7.68],[12.95,7.75],[13.35,7.68],[13.75,7.75],[14.15,7.7],[14.3,7.75],
[10.45,7.3],[10.85,7.35],[11.25,7.28],[11.65,7.35],[12.05,7.28],[12.45,7.35],[12.85,7.28],[13.25,7.35],[13.65,7.28],[14.08,7.35],[10.7,6.9],[11.1,6.95],[11.5,6.88],[11.9,6.95],[12.3,6.92],[12.7,6.95],[13.1,6.88],[13.55,6.95],[13.8,6.95],[10.85,6.5],[11.25,6.55],[11.65,6.48],[11.95,6.55],[12.8,6.5],[13.2,6.55],[13.35,6.45],
[10.95,6.1],[11.3,6.15],[11.7,6.08],[11.9,6.15],[12.85,6.1],[13.2,6.12],[13.38,6.05],[10.8,5.7],[11.2,5.72],[11.6,5.7],[11.9,5.72],[12.92,5.7],[13.3,5.72],[13.42,5.65],[10.52,5.3],[10.8,5.35],[11.2,5.28],[11.6,5.35],[11.85,5.3],[12.72,5.22],[13.05,5.3],[13.45,5.3],[10.6,4.9],[10.95,4.92],[11.3,4.88],[11.68,4.95],[12.52,5],[13.15,4.95],[10.8,4.55],[11,4.58],[11.25,4.55],[10.9,4.35],[11.05,4.32],[11.2,4.35],[9.28,4.1]
];

var orange = "#ffa424";
var green = "#41a850";

var svg = d3.select("#fig");
var defs = svg.append("defs");

// draw points in a mixed order, like the original scatter calls
function mixed(arr) {
  return arr.map(function(d, i) { return { d: d, k: (i * 97) % arr.length }; })
    .sort(function(a, b) { return a.k - b.k; })
    .map(function(o) { return o.d; });
}

function powerLabel(sel) {
  sel.each(function(d) {
    var e = Math.round(Math.log10(d));
    var t = d3.select(this).text("");
    t.append("tspan").text("10");
    t.append("tspan").attr("dy", "-0.45em").attr("font-size", "0.72em").text(e < 0 ? "\u2212" + (-e) : e);
  });
}

function logAxis(g, axisFn, scale, major) {
  g.call(axisFn(scale).tickValues(scale.ticks()).tickSize(2).tickFormat(""));
  g.call(axisFn(scale).tickValues(major).tickSize(4.5).tickFormat(function(d) { return d; }));
}

function axisBits(g, w) {
  g.selectAll(".domain").remove();
  g.selectAll("line").attr("stroke", "#333").attr("stroke-width", w);
}

var decades = [0.1, 1, 10, 100, 1000];

function drawPanelA(dx, title2, first, second, firstName, secondName, firstColor, secondColor, densFirst, densSecond) {
  var left = 76 + dx, right = Math.min(603 + dx, 1206), top = 62, bottom = 330;
  var x = d3.scaleLog().domain([0.1, 1440]).range([left, 603 + dx]);
  var y = d3.scaleLog().domain([0.0612, 2290]).range([bottom, top]);
  var clip = "clip" + dx;
  defs.append("clipPath").attr("id", clip).append("rect")
    .attr("x", left).attr("y", top).attr("width", right - left).attr("height", bottom - top);

  var grid = svg.append("g").attr("clip-path", "url(#" + clip + ")")
    .attr("stroke", "#a8a8a8").attr("stroke-width", 0.8).attr("stroke-dasharray", "2.5,1.5").attr("opacity", 0.62);
  grid.selectAll(".gx").data(x.ticks()).enter().append("line").attr("class", "gx")
    .attr("x1", x).attr("x2", x).attr("y1", top).attr("y2", bottom);
  grid.selectAll(".gy").data(y.ticks()).enter().append("line").attr("class", "gy")
    .attr("x1", left).attr("x2", right).attr("y1", y).attr("y2", y);

  var marks = svg.append("g").attr("clip-path", "url(#" + clip + ")");
  [[first, firstColor], [second, secondColor]].forEach(function(s) {
    marks.append("g").selectAll("circle").data(mixed(s[0])).enter().append("circle")
      .attr("cx", function(d) { return x(d[0]); })
      .attr("cy", function(d) { return y(d[1]); })
      .attr("r", 3.9).attr("fill", s[1]).attr("fill-opacity", 0.93)
      .attr("stroke", "#1a1a1a").attr("stroke-width", 0.8).attr("stroke-opacity", 0.85);
  });
  svg.append("line").attr("x1", x(4.9)).attr("x2", x(4.9)).attr("y1", top).attr("y2", bottom)
    .attr("stroke", "#000").attr("stroke-width", 1).attr("stroke-dasharray", "3.5,1.5");

  svg.append("rect").attr("x", left).attr("y", top).attr("width", 603 + dx - left).attr("height", bottom - top)
    .attr("fill", "none").attr("stroke", "#999").attr("stroke-width", 1.3);

  var gx = svg.append("g").attr("transform", "translate(0," + bottom + ")");
  logAxis(gx, d3.axisBottom, x, decades);
  axisBits(gx, 0.8);
  gx.selectAll("text").attr("font-size", 16.5).attr("dy", 0).attr("y", 19).call(powerLabel);
  var gy = svg.append("g").attr("transform", "translate(" + left + ",0)");
  logAxis(gy, d3.axisLeft, y, decades);
  axisBits(gy, 0.8);
  gy.selectAll("text").attr("font-size", 16.5).attr("x", -7).attr("dy", "0.42em").call(powerLabel);

  var cx = 339 + dx;
  svg.append("text").attr("x", cx).attr("y", 37).attr("text-anchor", "middle").attr("font-size", 17).text("Mean Binding Time and Off Time by Domain");
  svg.append("text").attr("x", cx).attr("y", 57).attr("text-anchor", "middle").attr("font-size", 17).text(title2);
  svg.append("text").attr("x", cx).attr("y", 368).attr("text-anchor", "middle").attr("font-size", 17).text("Mean Binding Time (s)");
  svg.append("text").attr("transform", "translate(" + (28 + dx) + ",196) rotate(-90)").attr("text-anchor", "middle").attr("font-size", 17.2).text("Mean Off Time (s)");

  // legend of the scatter
  var lg = svg.append("g").attr("transform", "translate(" + (83 + dx) + ",254)");
  lg.append("rect").attr("width", 120).attr("height", 68).attr("rx", 3).attr("fill", "#fff").attr("fill-opacity", 0.8).attr("stroke", "#ddd").attr("stroke-width", 0.8);
  [[firstName, firstColor], [secondName, secondColor]].forEach(function(r, i) {
    lg.append("circle").attr("cx", 20).attr("cy", 13 + i * 22).attr("r", 3.9).attr("fill", r[1]).attr("stroke", "#222").attr("stroke-width", 0.8);
    lg.append("text").attr("x", 46).attr("y", 16.5 + i * 22).attr("font-size", 14.2).text(r[0]);
  });
  lg.append("line").attr("x1", 6).attr("x2", 34).attr("y1", 55).attr("y2", 55).attr("stroke", "#000").attr("stroke-dasharray", "3.5,1.5");
  lg.append("text").attr("x", 46).attr("y", 60).attr("font-size", 14.2).text("x=4.9");

  // density strip
  var dTop = 390, dBottom = 479;
  var yd = d3.scaleLinear().domain([0, 0.445]).range([dBottom, dTop]);
  var line = d3.line().curve(d3.curveMonotoneX).x(function(d) { return x(d[0]); }).y(function(d) { return yd(d[1]); });
  [densSecond, densFirst].forEach(function(s) {
    svg.append("path").attr("d", line(d3.zip(s.xs, s.ys))).attr("fill", "none").attr("stroke", s.color).attr("stroke-width", 1).attr("stroke-opacity", 0.9);
  });
  svg.append("line").attr("x1", x(4.9)).attr("x2", x(4.9)).attr("y1", dTop).attr("y2", dBottom)
    .attr("stroke", "#000").attr("stroke-width", 1).attr("stroke-dasharray", "3.5,1.5");
  svg.append("rect").attr("x", left).attr("y", dTop).attr("width", 603 + dx - left).attr("height", dBottom - dTop)
    .attr("fill", "none").attr("stroke", "#999").attr("stroke-width", 1.3);
  var gdx = svg.append("g").attr("transform", "translate(0," + dBottom + ")");
  logAxis(gdx, d3.axisBottom, x, decades);
  axisBits(gdx, 0.8);
  gdx.selectAll("text").attr("font-size", 15.5).attr("dy", 0).attr("y", 21).call(powerLabel);
  var gdy = svg.append("g").attr("transform", "translate(" + left + ",0)")
    .call(d3.axisLeft(yd).tickValues([0, 0.25]).tickSize(4.5).tickFormat(d3.format(".2f")));
  axisBits(gdy, 0.8);
  gdy.selectAll("text").attr("font-size", 15.5).attr("x", -3).attr("dy", "0.1em");
  svg.append("text").attr("transform", "translate(" + (31 + dx) + ",436) rotate(-90)").attr("text-anchor", "middle").attr("font-size", 17).text("Density");

  var ld = svg.append("g").attr("transform", "translate(" + (416 + dx) + ",397)");
  ld.append("rect").attr("width", 180).attr("height", 70).attr("rx", 3).attr("fill", "#fff").attr("fill-opacity", 0.8).attr("stroke", "#ddd").attr("stroke-width", 0.8);
  [densFirst, densSecond].forEach(function(s, i) {
    ld.append("line").attr("x1", 6).attr("x2", 35).attr("y1", 12 + i * 22).attr("y2", 12 + i * 22).attr("stroke", s.color).attr("stroke-width", 1);
    ld.append("text").attr("x", 46).attr("y", 17 + i * 22).attr("font-size", 14.25).text(s.name);
  });
  ld.append("line").attr("x1", 6).attr("x2", 35).attr("y1", 55).attr("y2", 55).attr("stroke", "#000").attr("stroke-dasharray", "3.5,1.5");
  ld.append("text").attr("x", 46).attr("y", 60).attr("font-size", 14.25).text("x=4.9");
}

var dens1 = { xs: densityXDomain1, ys: densityDomain1, color: orange, name: "Density Domain 1" };
var dens2 = { xs: densityXDomain2, ys: densityDomain2, color: green, name: "Density Domain 2" };
drawPanelA(0, "(Domain 2 is pinned to the top)", scatterDomain1, scatterDomain2, "Domain 1", "Domain 2", orange, green, dens1, dens2);
drawPanelA(606, "(Domain 1 is pinned to the top)", scatterDomain2, scatterDomain1, "Domain 2", "Domain 1", green, orange, dens2, dens1);

function drawPanelB(dx, title2, first, second, firstName, secondName, firstColor, secondColor, showLabels) {
  var left = 99 + dx, right = 624 + dx, top = 592, bottom = 1061;
  var x = d3.scaleLinear().domain([-6.69, 15.5]).range([left, right]);
  var y = d3.scaleLinear().domain([-1.84, 17.29]).range([bottom, top]);
  [[first, firstColor], [second, secondColor]].forEach(function(s) {
    svg.append("g").selectAll("circle").data(mixed(s[0])).enter().append("circle")
      .attr("cx", function(d) { return x(d[0]); })
      .attr("cy", function(d) { return y(d[1]); })
      .attr("r", 6.4).attr("fill", s[1])
      .attr("stroke", "#111").attr("stroke-width", 1.4);
  });
  svg.append("rect").attr("x", left).attr("y", top).attr("width", right - left).attr("height", bottom - top)
    .attr("fill", "none").attr("stroke", "#666").attr("stroke-width", 1.2);
  var gx = svg.append("g").attr("transform", "translate(0," + bottom + ")")
    .call(d3.axisBottom(x).tickValues([-5, 0, 5, 10, 15]).tickSize(4.5).tickFormat(function(d) { return d < 0 ? "\u2212" + (-d) : d; }));
  axisBits(gx, 0.9);
  gx.selectAll("text").attr("font-size", 20.8).attr("y", 6).attr("dy", "0.9em");
  var gy = svg.append("g").attr("transform", "translate(" + left + ",0)")
    .call(d3.axisLeft(y).tickValues([0, 2.5, 5, 7.5, 10, 12.5, 15]).tickSize(4.5).tickFormat(showLabels ? d3.format(".1f") : ""));
  axisBits(gy, 0.9);
  gy.selectAll("text").attr("font-size", 21.8).attr("x", -6);
  var cx = (left + right) / 2;
  svg.append("text").attr("x", cx).attr("y", 561).attr("text-anchor", "middle").attr("font-size", 21.5).text("UMAP Visualization of CNN Embeddings");
  svg.append("text").attr("x", cx).attr("y", 586).attr("text-anchor", "middle").attr("font-size", 21.5).text(title2);
  svg.append("text").attr("x", cx).attr("y", 1109).attr("text-anchor", "middle").attr("font-size", 21).text("Component 1");
  svg.append("text").attr("transform", "translate(" + (33 + dx + (showLabels ? 0 : 51)) + ",827) rotate(-90)").attr("text-anchor", "middle").attr("font-size", 21.5).text("Component 2");

  var lg = svg.append("g").attr("transform", "translate(" + (470 + dx) + ",601)");
  lg.append("rect").attr("width", 145).attr("height", 58).attr("rx", 3).attr("fill", "#fff").attr("fill-opacity", 0.85).attr("stroke", "#ddd").attr("stroke-width", 0.9);
  [[firstName, firstColor], [secondName, secondColor]].forEach(function(r, i) {
    lg.append("circle").attr("cx", 24).attr("cy", 16 + i * 26).attr("r", 6.4).attr("fill", r[1]).attr("stroke", "#222").attr("stroke-width", 1);
    lg.append("text").attr("x", 55).attr("y", 21 + i * 26).attr("font-size", 17.3).text(r[0]);
  });
}

var umapAll1 = umapDomain1.concat(umapDomain1Dense);
var umapAll2 = umapDomain2.concat(umapDomain2Dense);
drawPanelB(0, "Domain 1 is pinned to the top", umapAll2, umapAll1, "Domain 2", "Domain 1", green, orange, true);
drawPanelB(581, "Domain 2 is pinned to the top", umapAll1, umapAll2, "Domain 1", "Domain 2", orange, green, false);

svg.append("text").attr("x", 14).attr("y", 28).attr("font-size", 25).attr("font-weight", "bold").style("font-family", "'Noto Sans',sans-serif").text("a");
svg.append("text").attr("x", 14).attr("y", 552).attr("font-size", 25).attr("font-weight", "bold").style("font-family", "'Noto Sans',sans-serif").text("b");
</script>
</body>
</html>
